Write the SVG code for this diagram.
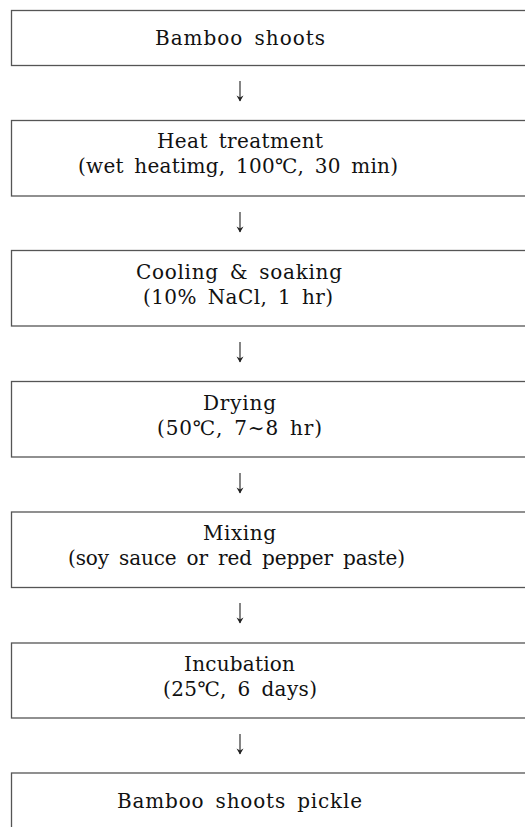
<svg xmlns="http://www.w3.org/2000/svg" width="525" height="827" viewBox="0 0 525 827">
<defs>
<style>
.box{fill:#fff;stroke:#555;stroke-width:1.3}
.t{font-family:"DejaVu Serif","Liberation Serif",serif;font-size:20px;word-spacing:4px;fill:#111}
.arr{stroke:#666;stroke-width:1.6;fill:none}
</style>
<marker id="ah" markerWidth="8" markerHeight="8" refX="7" refY="4" orient="auto" markerUnits="userSpaceOnUse" viewBox="0 0 8 8">
<path d="M1.5,0.5 L7.5,4 L1.5,7.5 L3.5,4 Z" fill="#222"/>
</marker>
</defs>
<rect width="525" height="827" fill="#fff"/>
<g id="n1"><rect class="box" x="11.5" y="10.5" width="530" height="55"/>
<text class="t" x="155" y="45" textLength="170" lengthAdjust="spacing">Bamboo shoots</text></g>
<g id="n2"><rect class="box" x="11.5" y="120.5" width="530" height="75.5"/>
<text class="t" x="157" y="148" textLength="166" lengthAdjust="spacing">Heat treatment</text>
<text class="t" x="78" y="173" textLength="320" lengthAdjust="spacing">(wet heatimg, 100℃, 30 min)</text></g>
<g id="n3"><rect class="box" x="11.5" y="250.5" width="530" height="75.5"/>
<text class="t" x="136" y="279" textLength="206" lengthAdjust="spacing">Cooling &amp; soaking</text>
<text class="t" x="143" y="304" textLength="190" lengthAdjust="spacing">(10% NaCl, 1 hr)</text></g>
<g id="n4"><rect class="box" x="11.5" y="381.5" width="530" height="75.5"/>
<text class="t" x="203" y="410" textLength="73" lengthAdjust="spacing">Drying</text>
<text class="t" x="157" y="435" textLength="165" lengthAdjust="spacing">(50℃, 7∼8 hr)</text></g>
<g id="n5"><rect class="box" x="11.5" y="512" width="530" height="75.5"/>
<text class="t" x="203" y="540" textLength="73" lengthAdjust="spacing">Mixing</text>
<text class="t" x="68" y="565" textLength="337" lengthAdjust="spacing">(soy sauce or red pepper paste)</text></g>
<g id="n6"><rect class="box" x="11.5" y="643" width="530" height="75"/>
<text class="t" x="184" y="671" textLength="111" lengthAdjust="spacing">Incubation</text>
<text class="t" x="163" y="696" textLength="154" lengthAdjust="spacing">(25℃, 6 days)</text></g>
<g id="n7"><rect class="box" x="11.5" y="773" width="530" height="80"/>
<text class="t" x="117" y="808" textLength="245" lengthAdjust="spacing">Bamboo shoots pickle</text></g>
<g id="connectors">
<line class="arr" x1="240" y1="81" x2="240" y2="101" marker-end="url(#ah)"/>
<line class="arr" x1="240" y1="212" x2="240" y2="232" marker-end="url(#ah)"/>
<line class="arr" x1="240" y1="342" x2="240" y2="362" marker-end="url(#ah)"/>
<line class="arr" x1="240" y1="473" x2="240" y2="493" marker-end="url(#ah)"/>
<line class="arr" x1="240" y1="603" x2="240" y2="623" marker-end="url(#ah)"/>
<line class="arr" x1="240" y1="734" x2="240" y2="754" marker-end="url(#ah)"/>
</g>
</svg>
